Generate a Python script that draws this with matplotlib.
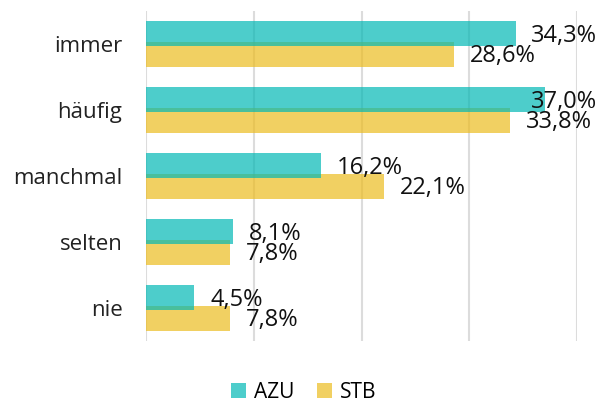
import numpy as np
import matplotlib
matplotlib.use("Agg")
import matplotlib.pyplot as plt

plt.rcParams['font.family'] = ['Open Sans', 'DejaVu Sans']

categories = ["immer", "häufig", "manchmal", "selten", "nie"]
azu = [34.3, 37.0, 16.2, 8.1, 4.5]
stb = [28.6, 33.8, 22.1, 7.8, 7.8]

teal = "#02B8B5"
yellow = "#ECBC1F"

fig = plt.figure(figsize=(6.03, 4.03), dpi=100)
ax = fig.add_axes([146 / 603, 62 / 403, 431 / 603, 330 / 403])

y = np.arange(len(categories))
h = 0.38
off = 0.155
b2 = ax.barh(y + off, stb, height=h, color=yellow, alpha=0.7, label="STB", zorder=2)
b1 = ax.barh(y - off, azu, height=h, color=teal, alpha=0.7, label="AZU", zorder=3)

ax.set_xlim(0, 40)
ax.set_ylim(4.5, -0.5)
ax.set_xticks([0, 10, 20, 30, 40])
ax.xaxis.set_tick_params(length=0, labelbottom=False)
ax.grid(axis='x', color="#dcdcdc", linewidth=1.5, zorder=0)
ax.set_axisbelow(True)
for s in ax.spines.values():
    s.set_visible(False)
ax.set_yticks(y)
ax.set_yticklabels(categories, fontsize=16, color="#222222")
ax.yaxis.set_tick_params(length=0, pad=17)

labels = []
for yy, v in zip(y - off, azu):
    labels.append(ax.annotate(f"{v:.1f}%".replace(".", ","), (v, yy), xytext=(11.5, -1.5),
                              textcoords="offset points", va="center", ha="left",
                              fontsize=17, color="#111111", zorder=5))
for yy, v in zip(y + off, stb):
    labels.append(ax.annotate(f"{v:.1f}%".replace(".", ","), (v, yy), xytext=(11.5, -1.5),
                              textcoords="offset points", va="center", ha="left",
                              fontsize=17, color="#111111", zorder=5))

# keep labels inside the figure
fig.canvas.draw()
r = fig.canvas.get_renderer()
for t in labels:
    bb = t.get_window_extent(r)
    limit = fig.bbox.width - 6
    if bb.x1 > limit:
        dx = (bb.x1 - limit) * 72 / fig.dpi
        t.xyann = (t.xyann[0] - dx, t.xyann[1])

fig.legend(handles=[b1, b2], labels=["AZU", "STB"], loc="center",
           bbox_to_anchor=(304 / 603, 1 - 392 / 403), ncol=2, frameon=False,
           fontsize=15, handlelength=0.7, handleheight=0.7, handletextpad=0.4,
           columnspacing=1.1)

fig.savefig("out.png", dpi=100)
